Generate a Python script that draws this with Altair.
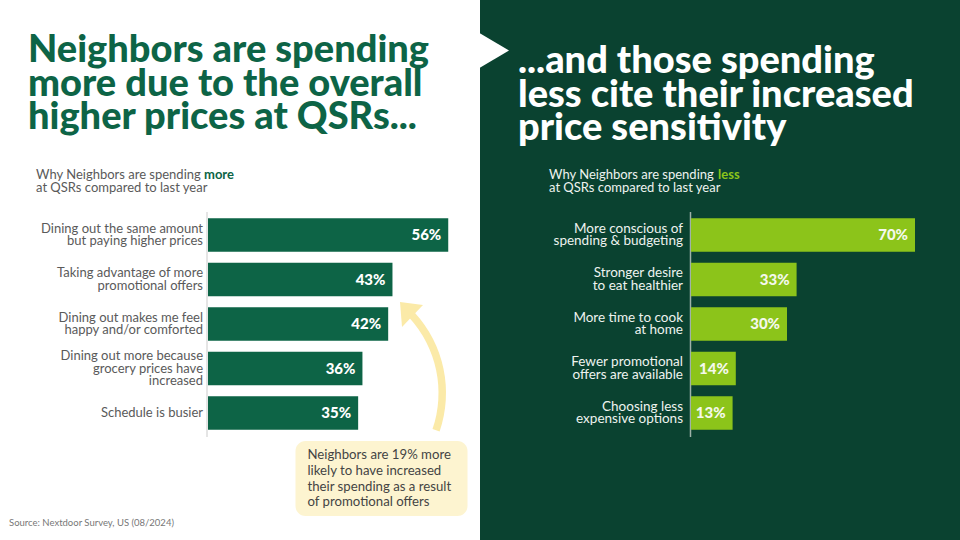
import altair as alt
import pandas as pd

# ---------------- data ----------------
more_labels = [
    "Dining out the same amount\nbut paying higher prices",
    "Taking advantage of more\npromotional offers",
    "Dining out makes me feel\nhappy and/or comforted",
    "Dining out more because\ngrocery prices have\nincreased",
    "Schedule is busier",
]
more_values = [56, 43, 42, 36, 35]

less_labels = [
    "More conscious of\nspending & budgeting",
    "Stronger desire\nto eat healthier",
    "More time to cook\nat home",
    "Fewer promotional\noffers are available",
    "Choosing less\nexpensive options",
]
less_values = [70, 33, 30, 14, 13]

title_left = "Neighbors are spending\nmore due to the overall\nhigher prices at QSRs..."
title_right = "...and those spending\nless cite their increased\nprice sensitivity"
sub_left = "Why Neighbors are spending\nat QSRs compared to last year"
sub_right = "Why Neighbors are spending\nat QSRs compared to last year"
callout = "Neighbors are 19% more\nlikely to have increased\ntheir spending as a result\nof promotional offers"
source = "Source: Nextdoor Survey, US (08/2024)"

FONT = "Lato"
DARK_BG = "#0a4230"
GREEN = "#0d6446"
LIME = "#8cc41a"
LAB_LH = 12.3

more_df = pd.DataFrame({"reason": more_labels, "pct": more_values,
                        "lab": [f"{v}%" for v in more_values]})
less_df = pd.DataFrame({"reason": less_labels, "pct": less_values,
                        "lab": [f"{v}%" for v in less_values]})

one = pd.DataFrame({"k": [0]})

# ---------------- backgrounds ----------------
bg_right = alt.Chart(one).mark_rect(fill=DARK_BG).encode(
    x=alt.value(480), x2=alt.value(960), y=alt.value(0), y2=alt.value(540))

notch = alt.Chart(one).mark_point(
    shape="M-0.86,-1L0.83,0L-0.86,1Z", filled=True, fill="white",
    stroke=None, opacity=1, size=1225).encode(x=alt.value(494.5), y=alt.value(50.5))

# ---------------- titles ----------------
t_left = alt.Chart(one).mark_text(
    text=title_left, lineBreak="\n", font=FONT, fontSize=38, fontWeight=900,
    color=GREEN, align="left", baseline="alphabetic", lineHeight=33.7
).encode(x=alt.value(28), y=alt.value(62))

t_right = alt.Chart(one).mark_text(
    text=title_right, lineBreak="\n", font=FONT, fontSize=38, fontWeight=900,
    color="white", align="left", baseline="alphabetic", lineHeight=33.7
).encode(x=alt.value(518), y=alt.value(73))

s_left = alt.Chart(one).mark_text(
    text=sub_left, lineBreak="\n", font=FONT, fontSize=13, color="#5a5a5a",
    align="left", baseline="middle", lineHeight=13
).encode(x=alt.value(36), y=alt.value(175))
s_left_b = alt.Chart(one).mark_text(
    text="more", font=FONT, fontSize=13, fontWeight="bold", color=GREEN,
    align="left", baseline="middle"
).encode(x=alt.value(204), y=alt.value(175))

s_right = alt.Chart(one).mark_text(
    text=sub_right, lineBreak="\n", font=FONT, fontSize=13, color="#eef3ef",
    align="left", baseline="middle", lineHeight=13
).encode(x=alt.value(549), y=alt.value(175))
s_right_b = alt.Chart(one).mark_text(
    text="less", font=FONT, fontSize=13, fontWeight="bold", color=LIME,
    align="left", baseline="middle"
).encode(x=alt.value(718), y=alt.value(175))

# ---------------- axis lines ----------------
ax_left = alt.Chart(one).mark_rule(color="#dcdcdc", strokeWidth=1.5).encode(
    x=alt.value(207), y=alt.value(212), y2=alt.value(437))
ax_right = alt.Chart(one).mark_rule(color="#9fb2a8", strokeWidth=1.5).encode(
    x=alt.value(690.5), y=alt.value(212), y2=alt.value(437))

# ---------------- bar panels ----------------
def panel(df, labels, xrange, bar_color, lab_color, val_color, lab_x, lab_size):
    y = alt.Y("reason:N", sort=labels, axis=None,
              scale=alt.Scale(range=[212.75, 435.25], paddingInner=0.25, paddingOuter=0.125))
    x = alt.X("pct:Q", axis=None, scale=alt.Scale(domain=[0, 100], range=xrange))
    base = alt.Chart(df)
    bars = base.mark_bar(color=bar_color).encode(x=x, y=y)
    vals = base.mark_text(font=FONT, fontSize=15, fontWeight=900, color=val_color,
                          align="right", baseline="middle", dx=-7).encode(
        x=x, y=y, text="lab:N")
    layers = [bars, vals]
    for n in (1, 2, 3):
        labs = base.transform_calculate(
            nl="length(split(datum.reason, '\\n'))"
        ).transform_filter(f"datum.nl == {n}").mark_text(
            font=FONT, fontSize=lab_size, color=lab_color, align="right",
            baseline="middle", lineBreak="\n", lineHeight=LAB_LH,
            dy=-(n - 1) * LAB_LH / 2
        ).encode(x=alt.value(lab_x), y=y, text="reason:N")
        layers.append(labs)
    return alt.layer(*layers)

left_panel = panel(more_df, more_labels, [208, 637], GREEN, "#5a5a5a", "white", 203, 13)
right_panel = panel(less_df, less_labels, [691, 1011], LIME, "#eef3ef", "#f4f8ec", 683, 13.5)

# ---------------- callout ----------------
box = alt.Chart(one).mark_rect(fill="#fdf4d0", cornerRadius=10).encode(
    x=alt.value(295.5), x2=alt.value(467.5), y=alt.value(441), y2=alt.value(516))
box_text = alt.Chart(one).mark_text(
    text=callout, lineBreak="\n", font=FONT, fontSize=13.2, color="#444444",
    align="left", baseline="middle", lineHeight=15.8
).encode(x=alt.value(307.5), y=alt.value(455))

arc = alt.Chart(one).mark_arc(
    theta=0.83, theta2=1.9, innerRadius=111.5, outerRadius=119, fill="#fbeaa8"
).encode(x=alt.value(327), y=alt.value(393))
head = alt.Chart(one).mark_point(
    shape="M-0.4,-0.44L0.52,-0.32L-0.32,0.56Z", filled=True, fill="#fbeaa8",
    stroke=None, opacity=1, size=2500).encode(x=alt.value(410), y=alt.value(313))

src = alt.Chart(one).mark_text(
    text=source, font=FONT, fontSize=9.5, color="#777777", align="left", baseline="middle"
).encode(x=alt.value(9), y=alt.value(523))

chart = alt.layer(
    bg_right, notch, t_left, t_right, s_left, s_left_b, s_right, s_right_b,
    ax_left, ax_right, left_panel, right_panel, arc, head, box, box_text, src
).resolve_scale(x="independent", y="independent").properties(
    width=960, height=540, padding=0, autosize=alt.AutoSizeParams(type="none"),
    background="white"
).configure_view(stroke=None)

chart.save("out.html", embed_options={"renderer": "svg", "actions": False})
